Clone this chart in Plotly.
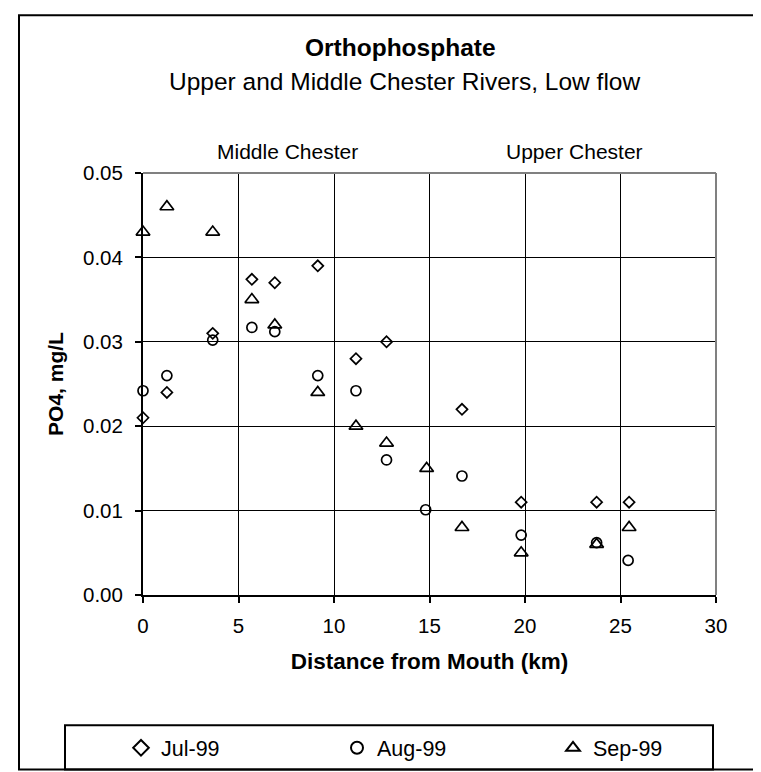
import plotly.graph_objects as go

# Distance from mouth (km)
dist_jul = [0, 1.25, 3.65, 5.7, 6.9, 9.15, 11.15, 12.75, 16.7, 19.8, 23.75, 25.45]
po4_jul = [0.021, 0.024, 0.031, 0.0374, 0.037, 0.039, 0.028, 0.030, 0.022, 0.011, 0.011, 0.011]

dist_aug = [0, 1.25, 3.65, 5.7, 6.9, 9.15, 11.15, 12.75, 14.8, 16.7, 19.8, 23.75, 25.4]
po4_aug = [0.0242, 0.026, 0.0302, 0.0317, 0.0312, 0.026, 0.0242, 0.016, 0.0101, 0.0141, 0.0071, 0.0062, 0.0041]

dist_sep = [0, 1.25, 3.65, 5.7, 6.9, 9.15, 11.15, 12.75, 14.85, 16.7, 19.8, 23.75, 25.45]
po4_sep = [0.043, 0.046, 0.043, 0.035, 0.032, 0.024, 0.020, 0.018, 0.015, 0.008, 0.005, 0.006, 0.008]

reach_labels = ["Middle Chester", "Upper Chester"]
reach_x = [7.55, 22.6]

W, H = 761, 772
L, R, T, B = 135, 53, 165, 179
FONT = "Liberation Sans, Arial, sans-serif"


def px(x):
    return (x - L) / (W - L - R)


def py(y):
    return (H - B - y) / (H - T - B)


fig = go.Figure()

series = [
    ("Jul-99", dist_jul, po4_jul, "diamond-open", 8.5),
    ("Aug-99", dist_aug, po4_aug, "circle-open", 10),
    ("Sep-99", dist_sep, po4_sep, "triangle-up-open", 12),
]
for name, xs, ys, sym, sz in series:
    fig.add_trace(go.Scatter(
        x=xs, y=ys, mode="markers", name=name,
        marker=dict(symbol=sym, size=sz, color="black",
                    line=dict(color="black", width=1.7)),
        cliponaxis=False,
    ))

# outer frame
fig.add_shape(type="rect", xref="paper", yref="paper",
              x0=px(11), x1=px(755), y0=py(770), y1=py(5),
              line=dict(color="black", width=2), layer="below")
# legend box
fig.add_shape(type="rect", xref="paper", yref="paper",
              x0=px(57), x1=px(705), y0=py(770), y1=py(725),
              line=dict(color="black", width=2), layer="below")
# grey top / right border of plot area
fig.add_shape(type="line", xref="paper", yref="paper", x0=0, x1=1, y0=1, y1=1,
              line=dict(color="#808080", width=2), layer="above")
fig.add_shape(type="line", xref="paper", yref="paper", x0=1, x1=1, y0=0, y1=1,
              line=dict(color="#808080", width=2), layer="above")

fig.add_annotation(text="<b>Orthophosphate</b>", xref="paper", yref="paper",
                   x=px(392), y=py(38), yanchor="middle", showarrow=False,
                   font=dict(size=24.5, color="black", family=FONT))
fig.add_annotation(text="Upper and Middle Chester Rivers, Low flow",
                   xref="paper", yref="paper", x=px(396), y=py(72),
                   yanchor="middle", showarrow=False,
                   font=dict(size=24.5, color="black", family=FONT))
for lab, xv in zip(reach_labels, reach_x):
    fig.add_annotation(text=lab, xref="x", yref="paper", x=xv, y=py(143),
                       yanchor="middle", showarrow=False,
                       font=dict(size=21, color="black", family=FONT))

fig.update_layout(
    width=W, height=H,
    margin=dict(l=L, r=R, t=T, b=B),
    paper_bgcolor="white", plot_bgcolor="white",
    font=dict(family=FONT, color="black", size=20.5),
    showlegend=True,
    legend=dict(orientation="h", x=px(121), xanchor="left",
                y=py(748), yanchor="middle",
                entrywidth=171, bgcolor="rgba(0,0,0,0)",
                font=dict(size=21.5), itemsizing="constant"),
    xaxis=dict(
        range=[0, 30], tickvals=[0, 5, 10, 15, 20, 25, 30],
        showgrid=True, gridcolor="black", gridwidth=1,
        showline=True, linecolor="black", linewidth=2,
        ticks="outside", ticklen=6, tickcolor="black", tickwidth=2,
        ticklabelstandoff=5, zeroline=False,
        title=dict(text="<b>Distance from Mouth (km)</b>", standoff=18,
                   font=dict(size=22.5)),
    ),
    yaxis=dict(
        range=[0, 0.05], tickvals=[0, 0.01, 0.02, 0.03, 0.04, 0.05],
        tickformat=".2f",
        showgrid=True, gridcolor="black", gridwidth=1,
        showline=True, linecolor="black", linewidth=2,
        ticks="outside", ticklen=6, tickcolor="black", tickwidth=2,
        ticklabelstandoff=8, zeroline=False,
        title=dict(text="<b>PO4, mg/L</b>", standoff=14, font=dict(size=21)),
    ),
)

fig.write_html("out.html")
